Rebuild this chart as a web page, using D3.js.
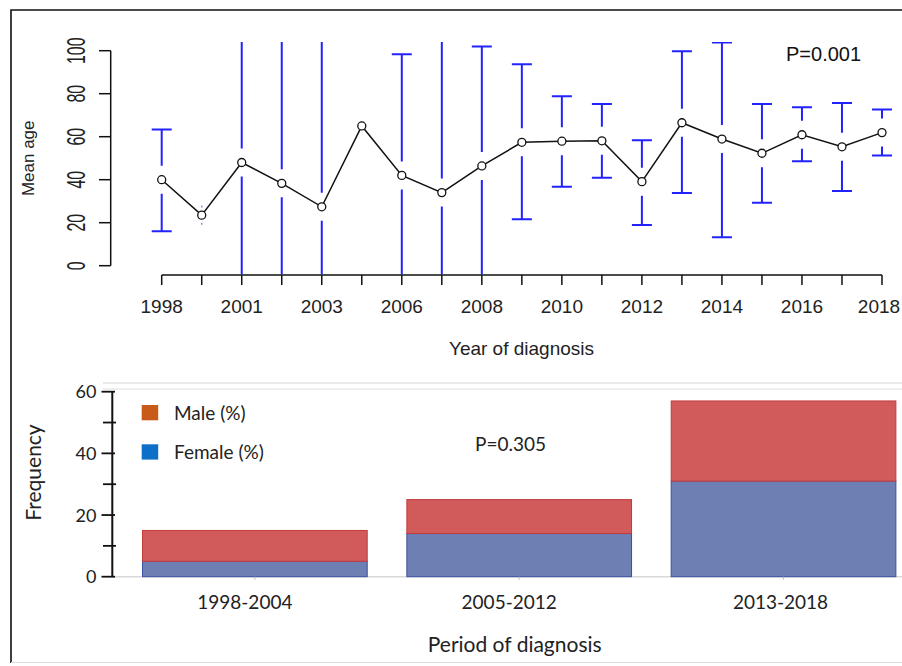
<!DOCTYPE html>
<html>
<head>
<meta charset="utf-8">
<script src="https://cdn.jsdelivr.net/npm/d3@7/dist/d3.min.js"></script>
<style>
  html, body { margin: 0; padding: 0; background: #fff; }
  svg { display: block; }
</style>
</head>
<body>
<svg id="chart" width="902" height="666"></svg>
<script>
// ---------- DATA ----------
const years = ["1998","2000","2001","2002","2003","2005","2006","2007","2008","2009","2010","2011","2012","2013","2014","2015","2016","2017","2018"];
const meanAge = [40, 23.5, 48, 38.3, 27.4, 65, 42, 34, 46.4, 57.4, 57.9, 58.1, 39.1, 66.5, 58.9, 52.3, 60.9, 55.3, 61.9];
const ciUpper = [63.4, 27.5, 130, 130, 130, null, 98.3, 130, 101.9, 93.7, 78.8, 75.2, 58.3, 99.7, 103.8, 75.2, 73.7, 75.7, 72.7];
const ciLower = [16.0, 19.5, -30, -30, -30, null, -30, -30, -30, 21.6, 36.7, 40.9, 18.9, 33.8, 13.2, 29.3, 48.6, 34.7, 51.3];
const ageTicks = [0, 20, 40, 60, 80, 100];
const yearLabelsShown = ["1998","2001","2003","2006","2008","2010","2012","2014","2016","2018"];

const periods = ["1998-2004", "2005-2012", "2013-2018"];
const femaleCount = [5, 14, 31];
const maleCount = [10, 11, 26];
const freqTicks = [0, 20, 40, 60];
const freqMinorTicks = [10, 30, 50];
const seriesNames = ["Male (%)", "Female (%)"];

// ---------- SETUP ----------
const svg = d3.select("#chart");
const ARIAL = "'Liberation Sans', Arial, sans-serif";
const CAL = "Lato, 'Open Sans', sans-serif";

// outer frame
svg.append("path").attr("d", "M11,663V10H902").attr("fill", "none").attr("stroke", "#111").attr("stroke-width", 1.6);
svg.append("line").attr("x1", 11).attr("x2", 902).attr("y1", 662.5).attr("y2", 662.5).attr("stroke", "#ddd").attr("stroke-width", 1);

// ---------- TOP CHART ----------
const x1 = d3.scalePoint().domain(years).range([161.7, 882]);
const y1 = d3.scaleLinear().domain([-4, 104]).range([274.3, 42.1]);

svg.append("clipPath").attr("id", "plotclip")
  .append("rect").attr("x", 100).attr("y", y1(104)).attr("width", 800).attr("height", y1(-4) - y1(104));

// y axis (R style)
const gy1 = svg.append("g");
gy1.append("line").attr("x1", 110.7).attr("x2", 110.7).attr("y1", y1(0)).attr("y2", y1(100))
  .attr("stroke", "#111").attr("stroke-width", 1.5);
gy1.selectAll("line.t").data(ageTicks).join("line").attr("class", "t")
  .attr("x1", 99).attr("x2", 110.7).attr("y1", d => y1(d)).attr("y2", d => y1(d))
  .attr("stroke", "#111").attr("stroke-width", 1.5);
gy1.selectAll("text").data(ageTicks).join("text")
  .attr("transform", d => `translate(85,${y1(d)}) rotate(-90) scale(0.89,1.42)`)
  .attr("text-anchor", "middle")
  .attr("font-family", ARIAL).attr("font-size", 18).attr("fill", "#222")
  .text(d => d);

svg.append("text")
  .attr("transform", "translate(34,158.3) rotate(-90)")
  .attr("text-anchor", "middle").attr("font-family", ARIAL).attr("font-size", 17).attr("fill", "#222")
  .text("Mean age");

// x axis
const gx1 = svg.append("g");
gx1.append("line").attr("x1", x1(years[0])).attr("x2", x1(years[years.length - 1])).attr("y1", 275).attr("y2", 275)
  .attr("stroke", "#111").attr("stroke-width", 1.5);
gx1.selectAll("line.t").data(years).join("line").attr("class", "t")
  .attr("x1", d => x1(d)).attr("x2", d => x1(d)).attr("y1", 275).attr("y2", 285)
  .attr("stroke", "#111").attr("stroke-width", 1.5);
gx1.selectAll("text").data(years.filter(d => yearLabelsShown.includes(d))).join("text")
  .attr("x", d => Math.min(x1(d), 879)).attr("y", 313).attr("text-anchor", "middle")
  .attr("font-family", ARIAL).attr("font-size", 19).attr("fill", "#222")
  .text(d => d);

svg.append("text").attr("x", 521.5).attr("y", 355).attr("text-anchor", "middle")
  .attr("font-family", ARIAL).attr("font-size", 19).attr("fill", "#222")
  .text("Year of diagnosis");

// error bars
const GAP = 14, CAP = 10, BLUE = "#2222ff";
const eb = svg.append("g").attr("clip-path", "url(#plotclip)").attr("stroke", BLUE).attr("stroke-width", 2);
years.forEach((yr, i) => {
  if (ciUpper[i] == null) return;
  const cx = x1(yr), cy = y1(meanAge[i]);
  const yu = y1(ciUpper[i]), yl = y1(ciLower[i]);
  if (cy - yu > GAP) {
    eb.append("line").attr("x1", cx).attr("x2", cx).attr("y1", yu).attr("y2", cy - GAP);
    eb.append("line").attr("x1", cx - CAP).attr("x2", cx + CAP).attr("y1", yu).attr("y2", yu);
  } else {
    eb.append("line").attr("x1", cx).attr("x2", cx).attr("y1", yu - 1).attr("y2", yu + 1).attr("stroke", "#8888ff").attr("stroke-width", 1.5);
  }
  if (yl - cy > GAP) {
    eb.append("line").attr("x1", cx).attr("x2", cx).attr("y1", cy + GAP).attr("y2", yl);
    eb.append("line").attr("x1", cx - CAP).attr("x2", cx + CAP).attr("y1", yl).attr("y2", yl);
  } else {
    eb.append("line").attr("x1", cx).attr("x2", cx).attr("y1", yl - 1).attr("y2", yl + 1).attr("stroke", "#8888ff").attr("stroke-width", 1.5);
  }
});

// mean line & points
const line = d3.line().x((d, i) => x1(years[i])).y(d => y1(d));
svg.append("path").datum(meanAge).attr("d", line).attr("fill", "none").attr("stroke", "#111").attr("stroke-width", 1.5);
svg.selectAll("circle.pt").data(meanAge).join("circle").attr("class", "pt")
  .attr("cx", (d, i) => x1(years[i])).attr("cy", d => y1(d)).attr("r", 4)
  .attr("fill", "#fff").attr("stroke", "#111").attr("stroke-width", 1.3);

svg.append("text").attr("x", 786).attr("y", 61).attr("font-family", ARIAL).attr("font-size", 20).attr("fill", "#111")
  .text("P=0.001");

// ---------- BOTTOM CHART ----------
const x2 = d3.scaleBand().domain(periods).range([122.7, 915.7]).paddingInner(0.15).paddingOuter(0.075);
const y2 = d3.scaleLinear().domain([0, 60]).range([576.7, 391.7]);

// plot area top border (light)
svg.append("line").attr("x1", 103).attr("x2", 902).attr("y1", 383).attr("y2", 383).attr("stroke", "#e2e2e2").attr("stroke-width", 1.5);
svg.append("line").attr("x1", 103).attr("x2", 902).attr("y1", 389).attr("y2", 389).attr("stroke", "#e8e8e8").attr("stroke-width", 1.5);
// baseline
svg.append("line").attr("x1", 112).attr("x2", 902).attr("y1", y2(0)).attr("y2", y2(0)).attr("stroke", "#d9d9d9").attr("stroke-width", 1.5);

const stackData = periods.map((p, i) => ({ period: p, female: femaleCount[i], male: maleCount[i] }));
const stack = d3.stack().keys(["female", "male"])(stackData);
const fills = { female: "#6e7fb4", male: "#d15b5b" };
const strokes = { female: "#3b4fa3", male: "#c43a3a" };
svg.append("g").selectAll("g").data(stack).join("g")
  .attr("fill", d => fills[d.key]).attr("stroke", d => strokes[d.key]).attr("stroke-width", 1)
  .selectAll("rect").data(d => d).join("rect")
  .attr("x", d => x2(d.data.period)).attr("width", x2.bandwidth())
  .attr("y", d => y2(d[1])).attr("height", d => y2(d[0]) - y2(d[1]));

// category ticks (small)
svg.selectAll("line.ct").data(periods).join("line").attr("class", "ct")
  .attr("x1", d => x2(d) + x2.bandwidth() / 2).attr("x2", d => x2(d) + x2.bandwidth() / 2)
  .attr("y1", y2(0)).attr("y2", y2(0) + 3).attr("stroke", "#bbb").attr("stroke-width", 1);

// y axis
const gy2 = svg.append("g");
gy2.append("line").attr("x1", 112.3).attr("x2", 112.3).attr("y1", y2(0)).attr("y2", y2(60))
  .attr("stroke", "#111").attr("stroke-width", 2);
gy2.selectAll("line.mj").data(freqTicks).join("line").attr("class", "mj")
  .attr("x1", 101.5).attr("x2", 115).attr("y1", d => y2(d)).attr("y2", d => y2(d))
  .attr("stroke", "#111").attr("stroke-width", 1.8);
gy2.selectAll("line.mn").data(freqMinorTicks).join("line").attr("class", "mn")
  .attr("x1", 103).attr("x2", 116).attr("y1", d => y2(d)).attr("y2", d => y2(d))
  .attr("stroke", "#111").attr("stroke-width", 1.8);
gy2.selectAll("text").data(freqTicks).join("text")
  .attr("x", 96.5).attr("y", d => y2(d)).attr("dy", "0.36em").attr("text-anchor", "end")
  .attr("font-family", CAL).attr("font-size", 18).attr("fill", "#222")
  .text(d => d);

svg.append("text").attr("transform", "translate(41,472.5) rotate(-90)").attr("text-anchor", "middle")
  .attr("font-family", CAL).attr("font-size", 21).attr("fill", "#222").text("Frequency");

// category labels
svg.selectAll("text.cat").data(periods).join("text").attr("class", "cat")
  .attr("x", (d, i) => x2(d) + x2.bandwidth() / 2 - [10, 10, 3][i]).attr("y", 609.3).attr("text-anchor", "middle")
  .attr("font-family", CAL).attr("font-size", 19).attr("fill", "#222").text(d => d);

svg.append("text").attr("x", 514.7).attr("y", 651.7).attr("text-anchor", "middle")
  .attr("font-family", CAL).attr("font-size", 21).attr("fill", "#222").text("Period of diagnosis");

// legend
const legendColors = ["#c75b17", "#0e6fc8"];
const lg = svg.append("g");
seriesNames.forEach((name, i) => {
  const yy = 405 + i * 39.3;
  lg.append("rect").attr("x", 141.7).attr("y", yy).attr("width", 16.5).attr("height", 15.3).attr("fill", legendColors[i]);
  lg.append("text").attr("x", 174).attr("y", yy + 14.5).attr("font-family", CAL).attr("font-size", 19).attr("fill", "#222").text(name);
});

svg.append("text").attr("x", 475).attr("y", 451).attr("font-family", CAL).attr("font-size", 19).attr("fill", "#222").text("P=0.305");
</script>
</body>
</html>
